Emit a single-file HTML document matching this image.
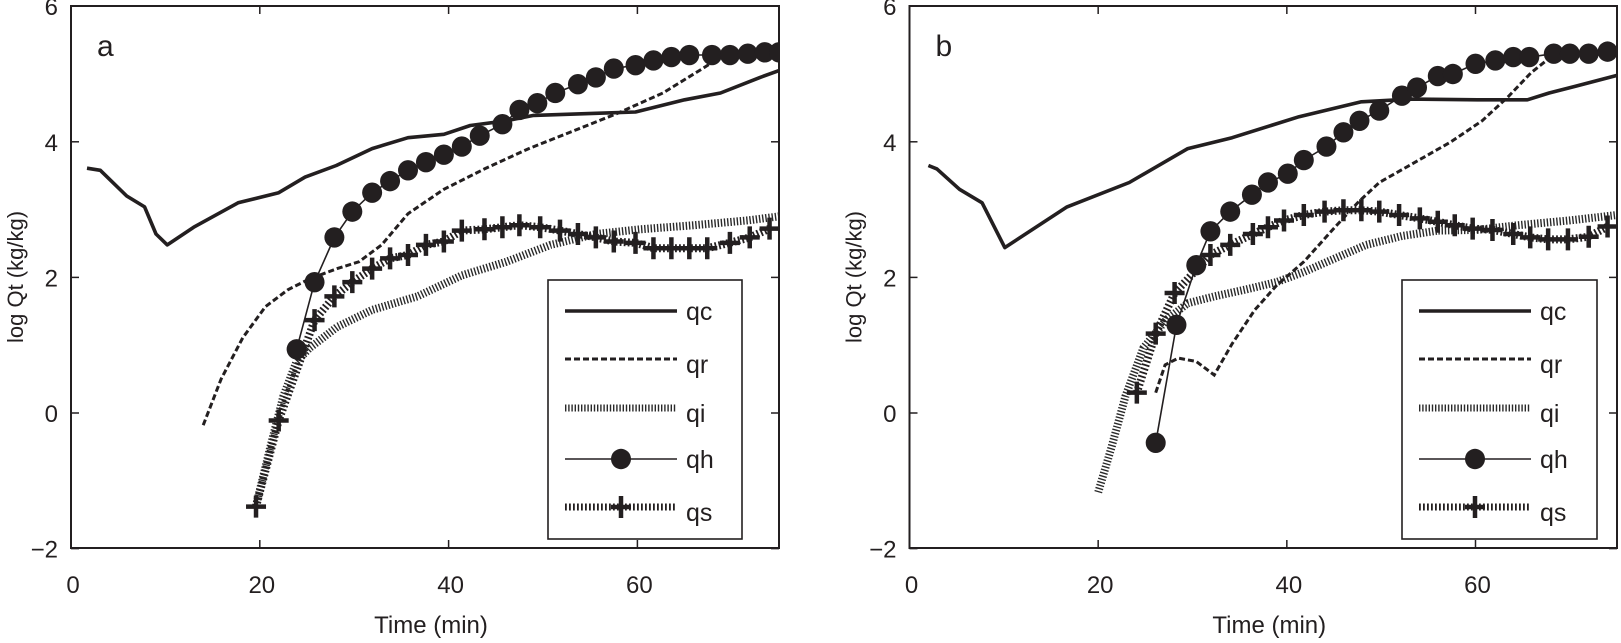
<!DOCTYPE html>
<html><head><meta charset="utf-8"><style>
html,body{margin:0;padding:0;background:#fff}
svg{display:block;font-family:"Liberation Sans",Arial,sans-serif}
</style></head><body>
<svg id="chart" width="1621" height="643" viewBox="0 0 1621 643" xmlns="http://www.w3.org/2000/svg"></svg>
<script>
const xTicks=[0,20,40,60];
const yTicks=[-2,0,2,4,6];
const seriesNames=["qc","qr","qi","qh","qs"];
// Panel a
const aQcX=[1.7,3.1,5.9,7.8,9.0,10.2,13.0,17.7,22.0,24.8,28.1,31.9,35.7,39.5,42.3,46.1,49,55.6,59.8,65,68.8,73,75];
const aQcY=[3.61,3.58,3.2,3.04,2.64,2.48,2.74,3.1,3.25,3.48,3.65,3.9,4.06,4.11,4.24,4.31,4.39,4.42,4.44,4.62,4.72,4.95,5.05];
const aQrX=[14.0,15.9,18.2,20.6,23.0,25.3,28.2,30.5,32.9,35.7,39.5,43.8,48.5,53.2,57.9,62.7,66.9,68.8,70.7];
const aQrY=[-0.18,0.5,1.11,1.57,1.82,1.98,2.13,2.23,2.48,2.94,3.3,3.6,3.9,4.16,4.42,4.72,5.08,5.25,5.28];
const aQiX=[19.6,21.1,22.5,23.9,25.3,28.2,31.9,36.7,41.4,46.1,50.8,55.6,60.3,66,71.7,75];
const aQiY=[-1.37,-0.51,0.25,0.76,0.96,1.27,1.52,1.72,2.03,2.23,2.48,2.64,2.71,2.77,2.84,2.9];
const aQhX=[23.9,25.8,27.9,29.8,31.9,33.8,35.7,37.6,39.5,41.4,43.3,45.7,47.5,49.4,51.3,53.7,55.6,57.5,59.8,61.7,63.6,65.5,67.9,69.8,71.7,73.5,75];
const aQhY=[0.94,1.93,2.59,2.97,3.25,3.42,3.58,3.7,3.81,3.93,4.09,4.26,4.47,4.57,4.72,4.85,4.95,5.08,5.13,5.2,5.25,5.28,5.28,5.28,5.3,5.32,5.32];
const aQsX=[19.6,22.0,25.8,27.9,29.8,31.9,33.8,35.7,37.6,39.5,41.4,43.8,45.7,47.5,49.7,51.8,53.7,55.6,57.5,59.8,61.7,63.6,65.5,67.4,69.8,71.9,74];
const aQsY=[-1.38,-0.11,1.37,1.72,1.93,2.13,2.28,2.33,2.48,2.53,2.69,2.71,2.74,2.77,2.74,2.69,2.64,2.59,2.53,2.51,2.43,2.43,2.43,2.43,2.51,2.59,2.72];
// Panel b
const bQcX=[2.0,2.9,5.3,7.7,10.1,16.7,23.3,29.5,34.2,41.3,47.9,53.1,60.2,65.5,67.8,70.6,75];
const bQcY=[3.65,3.6,3.3,3.1,2.44,3.04,3.4,3.9,4.06,4.37,4.59,4.63,4.62,4.62,4.72,4.82,4.98];
const bQrX=[26.1,27.1,28.5,30.4,32.3,34.2,36.6,38.9,41.8,45.1,47.5,49.8,53.1,57.4,60.7,63.5,65.9,67.8,69.2];
const bQrY=[0.3,0.71,0.81,0.76,0.56,1.02,1.52,1.88,2.23,2.74,3.1,3.4,3.66,4.0,4.31,4.67,5.02,5.23,5.28];
const bQiX=[20,21.4,22.9,24.8,27.2,29.5,32.3,35.6,38.9,41.8,45.1,48.4,52.2,56,60.2,64.5,70,75];
const bQiY=[-1.17,-0.51,0.25,0.96,1.37,1.62,1.72,1.82,1.93,2.08,2.28,2.48,2.61,2.69,2.7,2.77,2.84,2.92];
const bQhX=[26.1,28.3,30.4,31.9,34,36.3,38,40.1,41.8,44.2,46,47.7,49.8,52.2,53.8,56,57.6,60,62.1,64,65.7,68.3,70,72,74];
const bQhY=[-0.44,1.3,2.18,2.68,2.97,3.22,3.4,3.53,3.73,3.93,4.14,4.31,4.46,4.68,4.8,4.97,5.0,5.15,5.2,5.25,5.25,5.3,5.3,5.3,5.33];
const bQsX=[24.1,26.1,28.1,31.9,34,36.4,38,39.7,41.8,44,46,47.9,49.8,51.9,54.1,56,57.8,59.7,61.8,64,65.8,67.7,69.8,72,74];
const bQsY=[0.3,1.17,1.77,2.33,2.48,2.64,2.74,2.84,2.92,2.97,2.99,2.99,2.97,2.92,2.87,2.82,2.77,2.72,2.7,2.64,2.59,2.56,2.56,2.6,2.75];

const NS="http://www.w3.org/2000/svg";
const svg=document.getElementById('chart');
function mk(tag,attrs,parent){const e=document.createElementNS(NS,tag);for(const k in attrs)e.setAttribute(k,attrs[k]);(parent||svg).appendChild(e);return e;}

const panels=[
 {id:'a',x0:71,x1:779,label:'a',data:{qc:[aQcX,aQcY],qr:[aQrX,aQrY],qi:[aQiX,aQiY],qh:[aQhX,aQhY],qs:[aQsX,aQsY]},leg:[548,742]},
 {id:'b',x0:909.5,x1:1617,label:'b',data:{qc:[bQcX,bQcY],qr:[bQrX,bQrY],qi:[bQiX,bQiY],qh:[bQhX,bQhY],qs:[bQsX,bQsY]},leg:[1402,1597]}
];
const yTop=6, yBot=548;
function ys(v){return 413-67.8*v;}

function path(xs,ysArr,sx){return xs.map((x,i)=>(i?'L':'M')+sx(x).toFixed(1)+' '+ys(ysArr[i]).toFixed(1)).join(' ');}
const styles={
 qc:{stroke:'#231f20','stroke-width':3.6,fill:'none','stroke-linejoin':'round'},
 qr:{stroke:'#231f20','stroke-width':3,'stroke-dasharray':'6 3',fill:'none'},
 qi:{stroke:'#2a2a2a','stroke-width':8,'stroke-dasharray':'1.4 1.8',fill:'none'},
 qh:{stroke:'#231f20','stroke-width':1.6,fill:'none'},
 qs:{stroke:'#231f20','stroke-width':8,'stroke-dasharray':'1.8 2.2',fill:'none'}
};
function cross(g,cx,cy){mk('path',{d:`M${cx-10} ${cy}H${cx+10}M${cx} ${cy-11}V${cy+11}`,stroke:'#231f20','stroke-width':4.5,fill:'none'},g);}
function dot(g,cx,cy){mk('ellipse',{cx:cx,cy:cy,rx:10,ry:10.2,fill:'#231f20'},g);}

panels.forEach(p=>{
 const sx=v=>p.x0+v*(p.x1-p.x0)/75;
 const g=mk('g',{});
 
 
 const clipId='clip'+p.id;
 const cp=mk('clipPath',{id:clipId},g);mk('rect',{x:p.x0,y:yTop,width:p.x1-p.x0,height:yBot-yTop},cp);
 const plot=mk('g',{'clip-path':`url(#${clipId})`},g);
 ['qi','qr','qc','qs','qh'].forEach(n=>{
  const [X,Y]=p.data[n];
  const s=mk('path',Object.assign({d:path(X,Y,sx)},styles[n]),plot);
  
  
  if(n==='qh'){X.forEach((x,i)=>{dot(plot,sx(x),ys(Y[i]));});}
  if(n==='qs'){X.forEach((x,i)=>{cross(plot,sx(x),ys(Y[i]));});}
 });
 const fr=mk('rect',{x:p.x0,y:yTop,width:p.x1-p.x0,height:yBot-yTop,fill:'none',stroke:'#231f20','stroke-width':2},g);
 
 
 xTicks.forEach(t=>{
  const x=sx(t);
  if(t>0){mk('line',{x1:x,x2:x,y1:yBot,y2:yBot-8,stroke:'#231f20','stroke-width':1.5},g);mk('line',{x1:x,x2:x,y1:yTop,y2:yTop+8,stroke:'#231f20','stroke-width':1.5},g);}
  const tl=mk('text',{x:x+2,y:593,'font-size':24,'text-anchor':'middle',fill:'#231f20'},g);tl.textContent=t;
  
  
 });
 yTicks.forEach(t=>{
  const y=ys(t);
  mk('line',{x1:p.x0,x2:p.x0+8,y1:y,y2:y,stroke:'#231f20','stroke-width':1.5},g);
  mk('line',{x1:p.x1,x2:p.x1-8,y1:y,y2:y,stroke:'#231f20','stroke-width':1.5},g);
  const tl=mk('text',{x:p.x0-13,y:y+9,'font-size':24,'text-anchor':'end',fill:'#231f20'},g);tl.textContent=t<0?'\u2212'+(-t):t;
  
  
 });
 const xl=mk('text',{x:(p.x0+p.x1)/2+6,y:633,'font-size':24,'text-anchor':'middle',fill:'#231f20'},g);xl.textContent='Time (min)';
 
 
 const yx=p.x0-48, yy=277;
 const yl=mk('text',{x:yx,y:yy,'font-size':22,'text-anchor':'middle',fill:'#231f20',transform:`rotate(-90 ${yx} ${yy})`},g);yl.textContent='log Qt (kg/kg)';
 
 
 const pl=mk('text',{x:p.x0+26,y:56,'font-size':30,fill:'#231f20'},g);pl.textContent=p.label;
 
 
 const lg=mk('g',{},g);
 
 
 mk('rect',{x:p.leg[0],y:280,width:p.leg[1]-p.leg[0],height:259,fill:'#fff',stroke:'#231f20','stroke-width':1.6},lg);
 const rows=[311,359,408,459,507];
 seriesNames.forEach((n,i)=>{
  const lx1=p.leg[0]+17, lx2=p.leg[0]+129, ry=rows[i];
  const e=mk('g',{},lg);
  
  
  mk('path',Object.assign({d:`M${lx1} ${ry}H${lx2}`},styles[n],n==='qi'||n==='qs'?{'stroke-width':7}:{}),e);
  if(n==='qh')dot(e,(lx1+lx2)/2,ry);
  if(n==='qs')cross(e,(lx1+lx2)/2,ry);
  const t=mk('text',{x:lx2+9,y:ry+(i===0||i===3?9:14),'font-size':25,fill:'#231f20'},e);t.textContent=n;
 });
});
</script>
</body></html>
